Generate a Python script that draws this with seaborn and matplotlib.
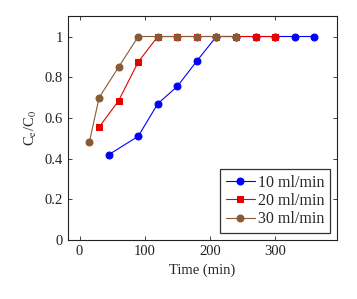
import pandas as pd
import matplotlib
matplotlib.use("Agg")
import matplotlib.pyplot as plt
import seaborn as sns

t10 = [45, 90, 120, 150, 180, 210, 240, 270, 300, 330, 360]
c10 = [0.42, 0.51, 0.67, 0.755, 0.88, 1, 1, 1, 1, 1, 1]
t20 = [30, 60, 90, 120, 150, 180, 210, 240, 270, 300]
c20 = [0.555, 0.685, 0.875, 1, 1, 1, 1, 1, 1, 1]
t30 = [15, 30, 60, 90, 120, 150, 180, 210, 240]
c30 = [0.48, 0.70, 0.85, 1, 1, 1, 1, 1, 1]
labels = ["10 ml/min", "20 ml/min", "30 ml/min"]

sns.set_style("ticks")
plt.rcParams["font.family"] = ["Liberation Serif", "DejaVu Serif"]
plt.rcParams["mathtext.fontset"] = "stix"
plt.rcParams["xtick.direction"] = "in"
plt.rcParams["ytick.direction"] = "in"

fig = plt.figure(figsize=(3.57, 2.99), dpi=100)
ax = fig.add_axes([0.19, 0.197, 0.754, 0.749])

series = [(t10, c10, "#0000ff", "o"), (t20, c20, "#e60000", "s"), (t30, c30, "#8a5a35", "o")]
for (t, c, col, m), lab in zip(series, labels):
    df = pd.DataFrame({"t": t, "c": c})
    sns.lineplot(data=df, x="t", y="c", ax=ax, color=col, marker=m, markersize=5,
                 markeredgecolor=col, linewidth=0.8, label=lab)

ax.set_xlim(-18, 395)
ax.set_ylim(0, 1.1)
ax.set_xticks([0, 100, 200, 300])
ax.set_yticks([0, 0.2, 0.4, 0.6, 0.8, 1])
ax.set_yticklabels(["0", "0.2", "0.4", "0.6", "0.8", "1"])
ax.tick_params(top=True, right=True, labelsize=10.5, colors="#222222", length=3, width=0.6)
for s in ax.spines.values():
    s.set_linewidth(0.8)
    s.set_color("#222222")
ax.set_xlabel("Time (min)", fontsize=10.5)
ax.set_ylabel("C$_\\mathrm{e}$/C$_0$", fontsize=10.5)

leg = ax.legend(loc="lower right", fontsize=11.5, frameon=True, fancybox=False,
                edgecolor="black", handlelength=1.8, handletextpad=0.2,
                borderpad=0.35, labelspacing=0.15, borderaxespad=0.45)
leg.get_frame().set_linewidth(0.9)

fig.savefig("out.png", dpi=100)
